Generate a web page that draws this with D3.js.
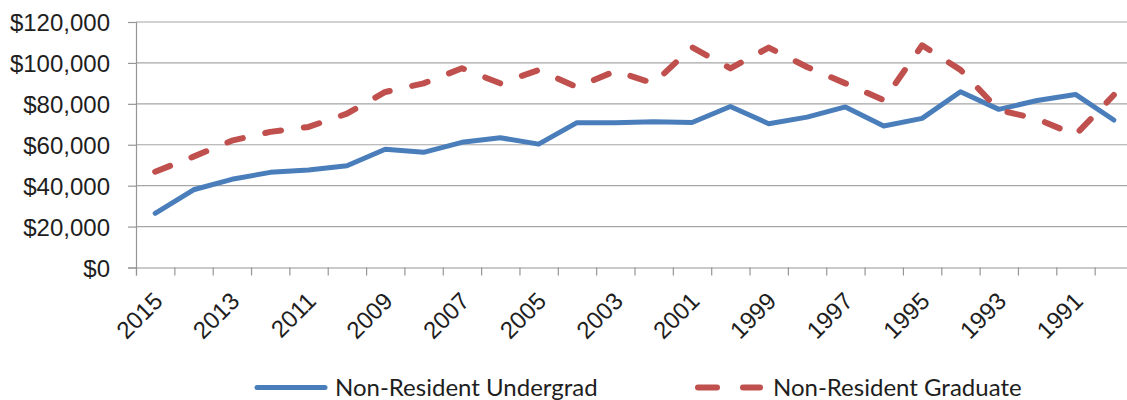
<!DOCTYPE html>
<html>
<head>
<meta charset="utf-8">
<script src="https://cdn.jsdelivr.net/npm/d3@7"></script>
<style>
  body { margin: 0; background: #fff; }
  svg { display: block; font-family: Lato, "Open Sans", sans-serif; }
</style>
</head>
<body>
<div id="chart"></div>
<script>
const years = ["2015","2014","2013","2012","2011","2010","2009","2008","2007","2006","2005","2004","2003",
  "2002","2001","2000","1999","1998","1997","1996","1995","1994","1993","1992","1991","1990"];
const undergrad = [26500, 38000, 43100, 46500, 47700, 49700, 57800, 56300, 61200, 63400, 60300, 70800, 70800,
  71300, 70900, 78700, 70300, 73500, 78500, 69200, 72900, 85900, 77300, 81600, 84600, 72100];
const graduate = [46800, 54200, 62000, 66300, 68700, 75200, 85800, 90000, 97400, 90000, 96500, 88200, 96000,
  90000, 107700, 97300, 107500, 98000, 90000, 81800, 108600, 96600, 77000, 72600, 64800, 84300];
const yTicks = [0, 20000, 40000, 60000, 80000, 100000, 120000];
const seriesNames = ["Non-Resident Undergrad", "Non-Resident Graduate"];

const W = 1127, H = 400;
const mLeft = 136, mTop = 22, mBottom = 267.5, plotW = 997;
const fontSize = 24;

const svg = d3.select("#chart").append("svg").attr("width", W).attr("height", H);

const x = d3.scaleBand().domain(years).range([mLeft, mLeft + plotW]);
const xi = d3.scaleLinear().domain([0, years.length]).range([mLeft, mLeft + plotW]);
const y = d3.scaleLinear().domain([0, 120000]).range([mBottom, mTop]);

// gridlines
svg.append("g")
  .selectAll("line").data(yTicks.slice(1)).enter().append("line")
  .attr("x1", mLeft).attr("x2", mLeft + plotW)
  .attr("y1", d => y(d)).attr("y2", d => y(d))
  .attr("stroke", "#a6a6a6").attr("stroke-width", 1.2);

// y axis
const yAxis = svg.append("g").attr("transform", `translate(${mLeft},0)`)
  .call(d3.axisLeft(y).tickValues(yTicks).tickSize(8).tickPadding(18)
    .tickFormat(d => "$" + d3.format(",")(d)));
yAxis.select(".domain").attr("stroke", "#969696").attr("stroke-width", 1.2);
yAxis.selectAll(".tick line").attr("stroke", "#969696").attr("stroke-width", 1.2);
yAxis.selectAll("text").attr("font-size", fontSize).attr("fill", "#1e1e1e").attr("dy", "0.36em");

// x axis ticks between categories
const xTickAxis = svg.append("g").attr("transform", `translate(0,${mBottom})`)
  .call(d3.axisBottom(xi).tickValues(d3.range(0, years.length)).tickSize(8).tickFormat(""));
xTickAxis.select(".domain").attr("stroke", "#969696").attr("stroke-width", 1.2);
xTickAxis.selectAll(".tick line").attr("stroke", "#969696").attr("stroke-width", 1.2);

// x labels, every other year
const xLab = svg.append("g").attr("transform", `translate(0,${mBottom})`)
  .call(d3.axisBottom(x).tickSize(0).tickFormat((d, i) => i % 2 === 0 ? d : ""));
xLab.select(".domain").remove();
xLab.selectAll("text")
  .attr("font-size", fontSize).attr("fill", "#1e1e1e")
  .attr("text-anchor", "end")
  .attr("y", 0).attr("dy", 0)
  .attr("transform", "translate(9,35) rotate(-45)");

const line = d3.line()
  .x((d, i) => x(years[i]) + x.bandwidth() / 2)
  .y(d => y(d));

svg.append("path").datum(undergrad)
  .attr("d", line).attr("fill", "none")
  .attr("stroke", "#4a7ebb").attr("stroke-width", 5)
  .attr("stroke-linejoin", "round").attr("stroke-linecap", "round");

svg.append("path").datum(graduate)
  .attr("d", line).attr("fill", "none")
  .attr("stroke", "#c0504d").attr("stroke-width", 6)
  .attr("stroke-dasharray", "16,23")
  .attr("stroke-linejoin", "round").attr("stroke-linecap", "round");

// legend
const legendY = 387.5;
const legend = svg.append("g");
legend.append("line").attr("x1", 257).attr("x2", 325).attr("y1", legendY).attr("y2", legendY)
  .attr("stroke", "#4a7ebb").attr("stroke-width", 5).attr("stroke-linecap", "round");
legend.append("text").attr("x", 335).attr("y", legendY).attr("dy", "0.35em")
  .attr("font-size", fontSize).attr("fill", "#1e1e1e").text(seriesNames[0]);
legend.append("line").attr("x1", 698).attr("x2", 760).attr("y1", legendY).attr("y2", legendY)
  .attr("stroke", "#c0504d").attr("stroke-width", 6)
  .attr("stroke-dasharray", "19,26").attr("stroke-linecap", "round");
legend.append("text").attr("x", 773).attr("y", legendY).attr("dy", "0.35em")
  .attr("font-size", fontSize).attr("fill", "#1e1e1e").text(seriesNames[1]);
</script>
</body>
</html>
